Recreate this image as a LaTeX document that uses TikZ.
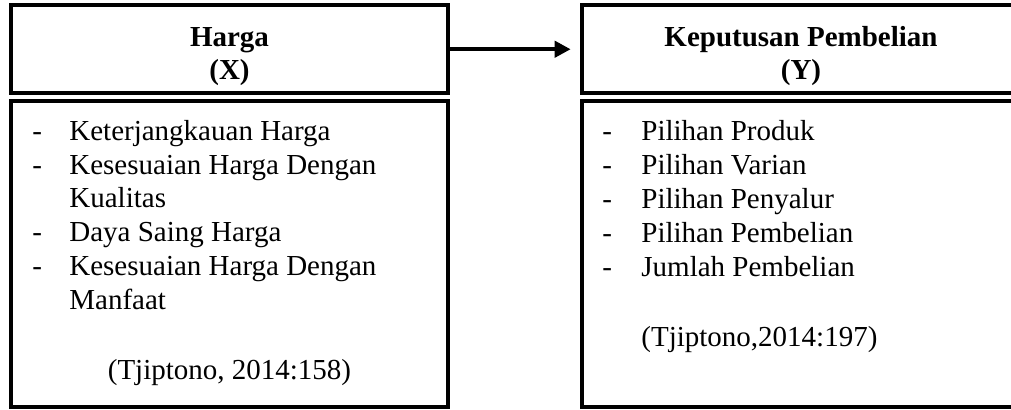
\documentclass[tikz,border=0pt]{standalone}
\usepackage{fontspec}
\setmainfont{Liberation Serif}
\usetikzlibrary{arrows.meta}
\begin{document}
\begin{tikzpicture}[x=0.5pt,y=-0.5pt,
  framebox/.style={draw=black,line width=2pt,inner sep=0pt,rectangle},
  txt/.style={inner sep=0pt,font=\fontsize{14.5pt}{16.85pt}\selectfont},
  txtb/.style={inner sep=0pt,font=\fontsize{14.5pt}{16.85pt}\selectfont\bfseries},
  link/.style={line width=2.1pt,-{Triangle[length=8pt,width=8pt]}}
]
\useasboundingbox (0,0) rectangle (1011,410);
\clip (0,0) rectangle (1011,410);

% boxes
\node[framebox,minimum width=218.5pt,minimum height=44.25pt] (hx) at (229.5,49.25) {};
\node[framebox,minimum width=218.5pt,minimum height=153pt] (lx) at (229.5,254) {};
\node[framebox,minimum width=220.25pt,minimum height=44.25pt] (hy) at (801.75,49.25) {};
\node[framebox,minimum width=220.25pt,minimum height=153pt] (ly) at (801.75,254) {};

% headings
\node[txtb,anchor=base] (hxa) at (229.5,47) {Harga};
\node[txtb,anchor=base] (hxb) at (229.5,80) {(X)};
\node[txtb,anchor=base] (hya) at (801,47) {Keputusan Pembelian};
\node[txtb,anchor=base] (hyb) at (801,80) {(Y)};

% arrow
\draw[link,shorten >=4.4pt] (hx.east) -- (hy.west);

% left list
\node[txt,anchor=base west] (ld1) at (32,141) {-};
\node[txt,anchor=base west] (lt1) at (69,141) {Keterjangkauan Harga};
\node[txt,anchor=base west] (ld2) at (32,175) {-};
\node[txt,anchor=base west] (lt2) at (69,175) {Kesesuaian Harga Dengan};
\node[txt,anchor=base west] (lt3) at (69,208) {Kualitas};
\node[txt,anchor=base west] (ld4) at (32,242) {-};
\node[txt,anchor=base west] (lt4) at (69,242) {Daya Saing Harga};
\node[txt,anchor=base west] (ld5) at (32,276) {-};
\node[txt,anchor=base west] (lt5) at (69,276) {Kesesuaian Harga Dengan};
\node[txt,anchor=base west] (lt6) at (69,310) {Manfaat};
\node[txt,anchor=base] (lcite) at (229.5,380) {(Tjiptono, 2014:158)};

% right list
\node[txt,anchor=base west] (rd1) at (602,141) {-};
\node[txt,anchor=base west] (rt1) at (641,141) {Pilihan Produk};
\node[txt,anchor=base west] (rd2) at (602,175) {-};
\node[txt,anchor=base west] (rt2) at (641,175) {Pilihan Varian};
\node[txt,anchor=base west] (rd3) at (602,209) {-};
\node[txt,anchor=base west] (rt3) at (641,209) {Pilihan Penyalur};
\node[txt,anchor=base west] (rd4) at (602,243) {-};
\node[txt,anchor=base west] (rt4) at (641,243) {Pilihan Pembelian};
\node[txt,anchor=base west] (rd5) at (602,277) {-};
\node[txt,anchor=base west] (rt5) at (641,277) {Jumlah Pembelian};
\node[txt,anchor=base west] (rcite) at (641,347) {(Tjiptono,2014:197)};
\end{tikzpicture}
\end{document}
